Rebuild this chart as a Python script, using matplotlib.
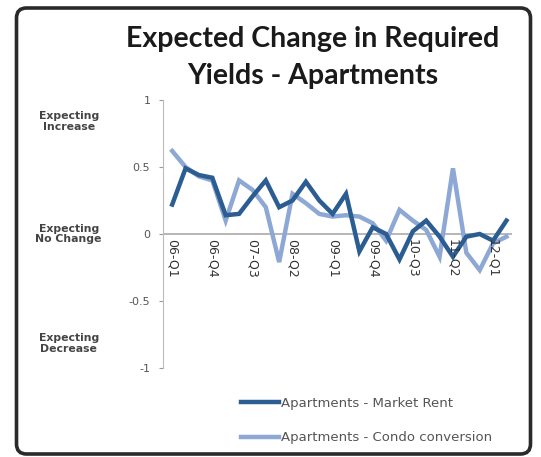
import numpy as np
import matplotlib.pyplot as plt
from matplotlib.patches import FancyBboxPatch

quarters = ['06-Q1', '06-Q2', '06-Q3', '06-Q4', '07-Q1', '07-Q2', '07-Q3', '07-Q4',
            '08-Q1', '08-Q2', '08-Q3', '08-Q4', '09-Q1', '09-Q2', '09-Q3', '09-Q4',
            '10-Q1', '10-Q2', '10-Q3', '10-Q4', '11-Q1', '11-Q2', '11-Q3', '11-Q4',
            '12-Q1', '12-Q2']
market_rent = [0.22, 0.49, 0.44, 0.42, 0.14, 0.15, 0.28, 0.40, 0.20, 0.25, 0.39, 0.25,
               0.15, 0.30, -0.13, 0.05, 0.00, -0.19, 0.02, 0.10, -0.02, -0.17, -0.02,
               0.00, -0.05, 0.10]
condo_conversion = [0.62, 0.50, 0.43, 0.40, 0.10, 0.40, 0.33, 0.20, -0.21, 0.30, 0.23, 0.15,
                    0.13, 0.14, 0.13, 0.08, -0.05, 0.18, 0.10, 0.03, -0.17, 0.49, -0.14,
                    -0.27, -0.07, -0.02]
series_names = ['Apartments - Market Rent', 'Apartments - Condo conversion']

x = np.arange(len(quarters))

fig = plt.figure(figsize=(5.41, 4.57), dpi=100)
ax = fig.add_axes([0.301, 0.195, 0.645, 0.586])

# chart frame with rounded corners (inch units so the corners stay round)
frame = FancyBboxPatch((0.165, 0.03), 5.14, 4.46, boxstyle='round,pad=0,rounding_size=0.1',
                       transform=fig.dpi_scale_trans, facecolor='none', edgecolor='#2a2a2a',
                       linewidth=2.6, zorder=0)
fig.patches.append(frame)

dark_line, = ax.plot(x, market_rent, color='#2B5C92', linewidth=3.2, solid_joinstyle='miter',
                     label=series_names[0], zorder=3)
light_line, = ax.plot(x, condo_conversion, color='#8DA8D4', linewidth=3.2,
                      solid_joinstyle='miter', label=series_names[1], zorder=2)

ax.set_xlim(-0.7, 25.4)
ax.set_ylim(-1, 1)
ax.set_yticks([1, 0.5, 0, -0.5, -1])
ax.set_yticklabels(['1', '0.5', '0', '-0.5', '-1'], fontsize=8, color='#555555')
ax.tick_params(axis='y', length=3, color='#999999', pad=6)

for s in ['top', 'right', 'bottom']:
    ax.spines[s].set_visible(False)
ax.spines['left'].set_color('#bbbbbb')
ax.axhline(0, color='#aaaaaa', linewidth=1.2, zorder=1)

# category labels hang below the zero line
ax.set_xticks([])
for i in range(0, len(quarters), 3):
    ax.text(x[i], -0.04, quarters[i], rotation=270, ha='center', va='top',
            fontsize=9, color='#333333', zorder=4)

for yv, txt in [(0.84, 'Expecting\nIncrease'), (0.0, 'Expecting\nNo Change'),
                (-0.82, 'Expecting\nDecrease')]:
    ax.text(-0.27, yv, txt, transform=ax.get_yaxis_transform(), ha='center', va='center',
            fontsize=7.8, fontweight='bold', color='#444444', linespacing=1.1)

fig.text(0.578, 0.874, 'Expected Change in Required\nYields - Apartments', ha='center',
         va='center', fontsize=20.5, fontweight='bold', family='Lato', color='#1a1a1a',
         linespacing=1.5)

ax.legend(handles=[dark_line, light_line], loc='lower left', bbox_to_anchor=(0.19, -0.33),
          frameon=False, fontsize=9.5, labelcolor='#555555', handlelength=2.9,
          handletextpad=0.1, labelspacing=1.65)

fig.savefig('out.png', dpi=100)
